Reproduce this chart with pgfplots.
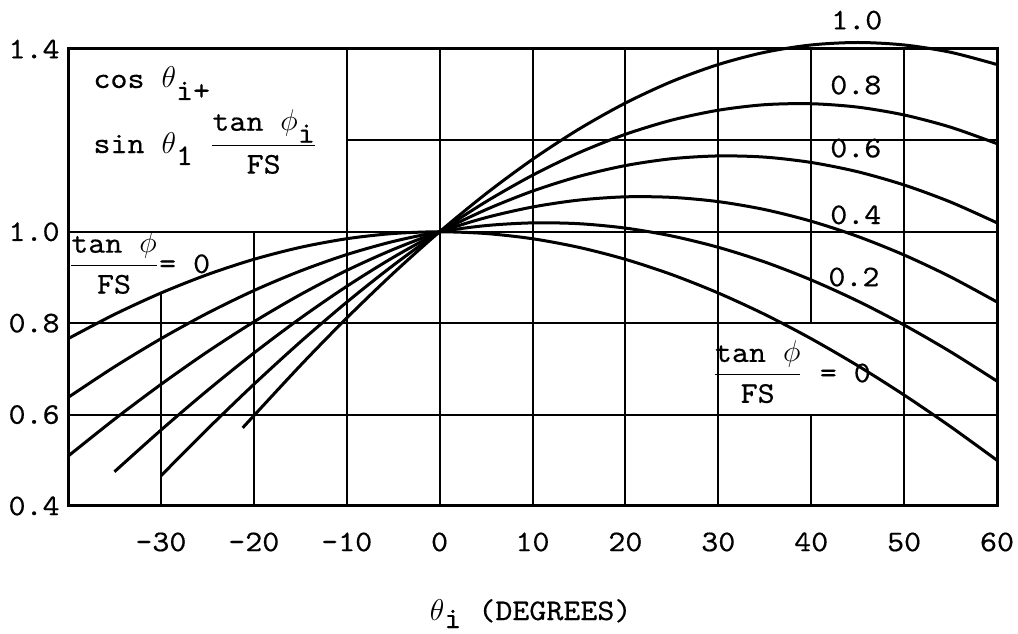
\RequirePackage{fix-cm}
\documentclass[border=0pt]{standalone}
\usepackage{fontspec}
\usepackage{pgfplots}
\pgfplotsset{compat=1.18}
\newfontfamily\twfont{lmmono10-regular.otf}[FakeStretch=1.08, FakeBold=0.4]
\newcommand\tw{\fontsize{15}{18}\selectfont\twfont}
\newcommand\sub[2][6pt]{\raisebox{-#1}{#2}}

\pgfplotstableread{
x y
-40 0.7660
-35 0.8192
-30 0.8660
-25 0.9063
-20 0.9397
-15 0.9659
-10 0.9848
-5 0.9962
0 1.0000
5 0.9962
10 0.9848
15 0.9659
20 0.9397
25 0.9063
30 0.8660
35 0.8192
40 0.7660
45 0.7071
50 0.6428
55 0.5736
60 0.5000
}\kzero
\pgfplotstableread{
x y
-40 0.6374
-35 0.7045
-30 0.7660
-25 0.8218
-20 0.8713
-15 0.9141
-10 0.9501
-5 0.9788
0 1.0000
5 1.0136
10 1.0195
15 1.0177
20 1.0081
25 0.9908
30 0.9660
35 0.9339
40 0.8946
45 0.8485
50 0.7960
55 0.7374
60 0.6732
}\ktwo
\pgfplotstableread{
x y
-40 0.5089
-35 0.5898
-30 0.6660
-25 0.7373
-20 0.8029
-15 0.8624
-10 0.9154
-5 0.9613
0 1.0000
5 1.0311
10 1.0542
15 1.0694
20 1.0765
25 1.0753
30 1.0660
35 1.0486
40 1.0231
45 0.9899
50 0.9492
55 0.9013
60 0.8464
}\kfour
\pgfplotstableread{
x y
-35 0.4750
-30 0.5660
-25 0.6527
-20 0.7345
-15 0.8106
-10 0.8806
-5 0.9439
0 1.0000
5 1.0485
10 1.0890
15 1.1212
20 1.1449
25 1.1599
30 1.1660
35 1.1634
40 1.1517
45 1.1314
50 1.1024
55 1.0651
60 1.0196
}\ksix
\pgfplotstableread{
x y
-30 0.4660
-25 0.5682
-20 0.6661
-15 0.7588
-10 0.8459
-5 0.9265
0 1.0000
5 1.0659
10 1.1237
15 1.1730
20 1.2133
25 1.2444
30 1.2660
35 1.2781
40 1.2802
45 1.2728
50 1.2556
55 1.2289
60 1.1928
}\keight
\pgfplotstableread{
x y
-21.2 0.5710
-15 0.7071
-10 0.8112
-5 0.9090
0 1.0000
5 1.0834
10 1.1584
15 1.2247
20 1.2817
25 1.3289
30 1.3660
35 1.3928
40 1.4088
45 1.4142
50 1.4088
55 1.3928
60 1.3660
}\kten

\begin{document}
\begin{tikzpicture}
\begin{axis}[
  width=464.5pt, height=228.5pt, scale only axis,
  xmin=-40, xmax=60, ymin=0.4, ymax=1.4,
  clip=false,
  axis line style={line width=1.5pt, line cap=rect},
  xtick={-30,-20,-10,0,10,20,30,40,50,60},
  xticklabels={-30,-20,-10,0,10,20,30,40,50,60},
  ytick={0.4,0.6,0.8,1.0,1.4},
  yticklabels={0.4,0.6,0.8,1.0,1.4},
  major tick length=0pt,
  tick label style={font=\tw},
  xticklabel style={anchor=center, yshift=-18pt},
  yticklabel style={anchor=east, inner sep=4pt},
]
% grid (as drawn in the original)
\draw[line width=1pt] (axis cs:-10,1.2) -- (axis cs:60,1.2);
\draw[line width=1pt] (axis cs:-40,1.0) -- (axis cs:60,1.0);
\draw[line width=1pt] (axis cs:-40,0.8) -- (axis cs:60,0.8);
\draw[line width=1pt] (axis cs:-40,0.6) -- (axis cs:60,0.6);
\draw[line width=1pt] (axis cs:-30,0.4) -- (axis cs:-30,0.866);
\draw[line width=1pt] (axis cs:-20,0.4) -- (axis cs:-20,1.0);
\draw[line width=1pt] (axis cs:-10,0.4) -- (axis cs:-10,1.4);
\draw[line width=1pt] (axis cs:0,0.4) -- (axis cs:0,1.4);
\draw[line width=1pt] (axis cs:10,0.4) -- (axis cs:10,1.4);
\draw[line width=1pt] (axis cs:20,0.4) -- (axis cs:20,1.4);
\draw[line width=1pt] (axis cs:30,0.4) -- (axis cs:30,1.4);
\draw[line width=1pt] (axis cs:50,0.4) -- (axis cs:50,1.4);
\draw[line width=1pt] (axis cs:40,0.4) -- (axis cs:40,0.6);
\draw[line width=1pt] (axis cs:40,0.8) -- (axis cs:40,1.4);

\addplot[black, line width=1.5pt, smooth] table {\kzero};
\addplot[black, line width=1.5pt, smooth] table {\ktwo};
\addplot[black, line width=1.5pt, smooth] table {\kfour};
\addplot[black, line width=1.5pt, smooth] table {\ksix};
\addplot[black, line width=1.5pt, smooth] table {\keight};
\addplot[black, line width=1.5pt, smooth] table {\kten};

% curve labels
\node[font=\tw] at (axis cs:44.9,1.463) {1.0};
\node[font=\tw] at (axis cs:44.8,1.321) {0.8};
\node[font=\tw] at (axis cs:44.8,1.183) {0.6};
\node[font=\tw] at (axis cs:44.8,1.037) {0.4};
\node[font=\tw] at (axis cs:44.6,0.901) {0.2};
\node[font=\tw, inner sep=0pt] at (axis cs:-32.3,0.932) {$\displaystyle\frac{\mbox{tan }\phi}{\mbox{FS}}$= 0};
\node[font=\tw, inner sep=0pt] at (axis cs:37.9,0.693) {$\displaystyle\frac{\mbox{tan }\phi}{\mbox{FS}}$ = 0};

% formula box
\node[anchor=base west, font=\tw, inner sep=0pt] at (axis cs:-37.3,1.3147) {cos $\theta$\sub{i+}};
\node[anchor=base west, font=\tw, inner sep=0pt] at (axis cs:-37.3,1.1724) {sin $\theta$\sub{1} $\displaystyle\frac{\mbox{tan }\phi\mbox{\sub{i}}}{\mbox{FS}}$};

% x axis title
\node[anchor=base, font=\tw] at (axis cs:9.8,0.1505) {$\theta$\sub[4pt]{i} (DEGREES)};

\coordinate (bbll) at (axis cs:-47.32,0.1199);
\coordinate (bbur) at (axis cs:62.26,1.5072);
\end{axis}
\pgfresetboundingbox
\path (bbll) rectangle (bbur);
\end{tikzpicture}
\end{document}
